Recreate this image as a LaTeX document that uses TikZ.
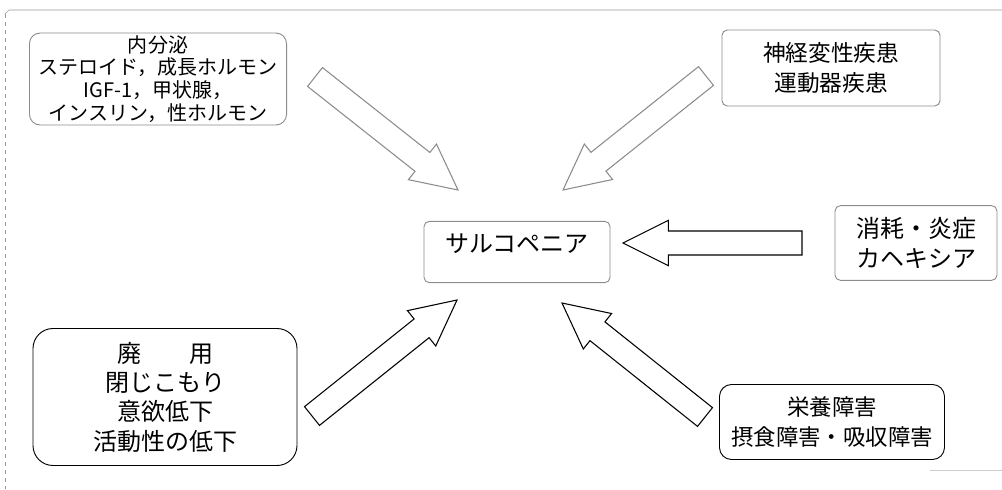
\documentclass[tikz,border=0pt]{standalone}
\usepackage{fontspec}
\newfontfamily\jpfont{Noto Sans CJK JP}
\usetikzlibrary{calc}

\begin{document}
\begin{tikzpicture}[
x=0.75pt,y=-0.75pt,
box/.style={draw,rounded corners=4pt,align=center,inner sep=0pt,line width=0.7pt},
faint/.style={draw=black!45},
fatarrow/.style={draw,line width=0.8pt,line join=miter,to path={
  let \p1=(\tikztostart),\p2=(\tikztotarget),
      \n1={atan2(\y2-\y1,\x2-\x1)},\n2={veclen(\x2-\x1,\y2-\y1)} in
  ([shift={(\p1)},rotate=\n1]0pt,-9pt) -- ([shift={(\p1)},rotate=\n1]\n2-34pt,-9pt)
  -- ([shift={(\p1)},rotate=\n1]\n2-34pt,-17pt) -- (\p2)
  -- ([shift={(\p1)},rotate=\n1]\n2-34pt,17pt) -- ([shift={(\p1)},rotate=\n1]\n2-34pt,9pt)
  -- ([shift={(\p1)},rotate=\n1]0pt,9pt) -- cycle}}
]
\useasboundingbox (0,0) rectangle (1002,489);
% outer frame
\draw[black!40] (1002,10) -- (9,10) -- (5,14);
\draw[black!40,dashed] (5,14) -- (5,489);
\draw[black!20] (930,470) -- (1002,470);
% boxes
\node[box,faint,rounded corners=8pt,minimum width=192.8pt,minimum height=69pt,
  font=\jpfont\fontsize{15pt}{17pt}\selectfont] (endo) at (158,79)
  {内分泌\\ステロイド，成長ホルモン\\IGF-1，甲状腺，\\インスリン，性ホルモン};
\node[box,faint,minimum width=163.5pt,minimum height=57pt,
  font=\jpfont\fontsize{17pt}{22.5pt}\selectfont] (neuro) at (831,68)
  {神経変性疾患\\運動器疾患};
\node[box,faint,minimum width=139.5pt,minimum height=46pt,text depth=14pt,
  font=\jpfont\fontsize{18pt}{22pt}\selectfont] (sarco) at (517,252) {サルコペニア};
\node[box,faint,minimum width=121.5pt,minimum height=56pt,
  font=\jpfont\fontsize{18pt}{22.5pt}\selectfont] (cachex) at (916,243)
  {消耗・炎症\\カヘキシア};
\node[box,rounded corners=15pt,minimum width=198pt,minimum height=102.75pt,
  font=\jpfont\fontsize{18pt}{22pt}\selectfont] (disuse) at (165,397)
  {廃　　用\\閉じこもり\\意欲低下\\活動性の低下};
\node[box,rounded corners=9pt,minimum width=168.75pt,minimum height=56.25pt,
  font=\jpfont\fontsize{16.8pt}{22.5pt}\selectfont] (nutri) at (832,422)
  {栄養障害\\摂食障害・吸収障害};
% arrow ends
\coordinate (endoA) at (315,77);
\coordinate (endoB) at (458,190);
\coordinate (neuroA) at (706,76);
\coordinate (neuroB) at (563,190);
\coordinate (cachexA) at (802,243);
\coordinate (cachexB) at (623,243);
\coordinate (disuseA) at (312,416);
\coordinate (disuseB) at (457,300);
\coordinate (nutriA) at (705,417);
\coordinate (nutriB) at (562,303);
% block arrows
\draw[fatarrow,draw=black!45] (endoA) to (endoB);
\draw[fatarrow,draw=black!45] (neuroA) to (neuroB);
\draw[fatarrow] (cachexA) to (cachexB);
\draw[fatarrow] (disuseA) to (disuseB);
\draw[fatarrow] (nutriA) to (nutriB);
\end{tikzpicture}
\end{document}
